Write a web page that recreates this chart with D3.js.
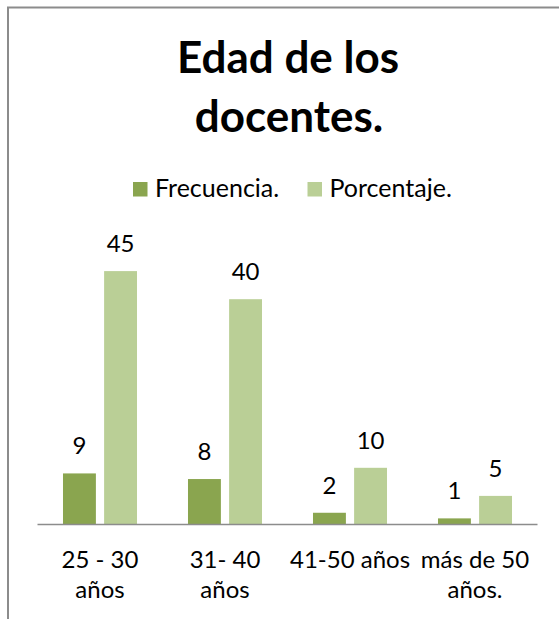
<!DOCTYPE html>
<html>
<head>
<meta charset="utf-8">
<script src="https://cdn.jsdelivr.net/npm/d3@7"></script>
<style>
  body { margin: 0; background: #fff; }
  svg { display: block; font-family: Lato, "Open Sans", sans-serif; }
</style>
</head>
<body>
<div id="canvas"></div>
<script>
"use strict";

/* Data */
let categories = [["25 - 30", "años"], ["31- 40", "años"], ["41-50 años"], ["más de 50", "años."]];
let seriesNames = ["Frecuencia.", "Porcentaje."];
let frecuencia = [9, 8, 2, 1];
let porcentaje = [45, 40, 10, 5];

/* Drawing config */
let svgWidth = 559;
let svgHeight = 619;
let colors = ["#8aa54f", "#bacf96"];

let svg = d3.select("#canvas")
  .append("svg")
  .attr("width", svgWidth)
  .attr("height", svgHeight);

// chart frame (runs off the right and bottom edges)
svg.append("rect")
  .attr("x", 8)
  .attr("y", 7.5)
  .attr("width", 620)
  .attr("height", 700)
  .attr("fill", "none")
  .attr("stroke", "#8c8c8c")
  .attr("stroke-width", 2);

/* Title */
let title = svg.append("text")
  .attr("text-anchor", "middle")
  .attr("font-weight", "bold")
  .attr("font-size", 44)
  .attr("fill", "#000");
title.append("tspan").attr("x", 288).attr("y", 73).text("Edad de los");
title.append("tspan").attr("x", 289).attr("y", 132).text("docentes.");

/* Scales */
let keys = categories.map((c, i) => i);
let x0 = d3.scaleBand()
  .domain(keys)
  .range([37.5, 537.5]);

let x1 = d3.scaleBand()
  .domain(seriesNames)
  .range([0, x0.bandwidth()])
  .paddingInner(0.2)
  .paddingOuter(0.62);

let y = d3.scaleLinear()
  .domain([0, 50])
  .range([524, 243]);

let rows = keys.map(i => ({ i: i, values: [frecuencia[i], porcentaje[i]] }));

/* Bars */
let groups = svg.selectAll("g.group")
  .data(rows)
  .join("g")
  .attr("class", "group")
  .attr("transform", d => `translate(${x0(d.i)},0)`);

groups.selectAll("rect")
  .data(d => d.values.map((v, k) => ({ key: seriesNames[k], k: k, v: v })))
  .join("rect")
  .attr("x", d => x1(d.key))
  .attr("y", d => y(d.v))
  .attr("width", x1.bandwidth())
  .attr("height", d => y(0) - y(d.v))
  .attr("fill", d => colors[d.k]);

// value labels
groups.selectAll("text")
  .data(d => d.values.map((v, k) => ({ key: seriesNames[k], v: v })))
  .join("text")
  .attr("x", d => x1(d.key) + x1.bandwidth() / 2)
  .attr("y", d => y(d.v) - 19)
  .attr("text-anchor", "middle")
  .attr("font-size", 24)
  .attr("fill", "#000")
  .text(d => d.v);

/* Axis line */
svg.append("line")
  .attr("x1", x0.range()[0])
  .attr("x2", x0.range()[1])
  .attr("y1", y(0) + 0.5)
  .attr("y2", y(0) + 0.5)
  .attr("stroke", "#8c8c8c")
  .attr("stroke-width", 1.5);

/* Category labels */
let catLabels = svg.selectAll("text.cat")
  .data(categories)
  .join("text")
  .attr("class", "cat")
  .attr("text-anchor", "middle")
  .attr("font-size", 24)
  .attr("fill", "#000");

catLabels.selectAll("tspan")
  .data((d, i) => d.map(line => ({ line: line, i: i })))
  .join("tspan")
  .attr("x", d => x0(d.i) + x0.bandwidth() / 2)
  .attr("y", (d, j) => 567.5 + j * 30)
  .text(d => d.line);

/* Legend */
let legendX = [133, 307.5];
let legend = svg.selectAll("g.legend")
  .data(seriesNames)
  .join("g")
  .attr("class", "legend")
  .attr("transform", (d, i) => `translate(${legendX[i]},182)`);

legend.append("rect")
  .attr("width", 14.5)
  .attr("height", 14.5)
  .attr("fill", (d, i) => colors[i]);

legend.append("text")
  .attr("x", 22)
  .attr("y", 15)
  .attr("font-size", 25)
  .attr("fill", "#000")
  .text(d => d);
</script>
</body>
</html>
